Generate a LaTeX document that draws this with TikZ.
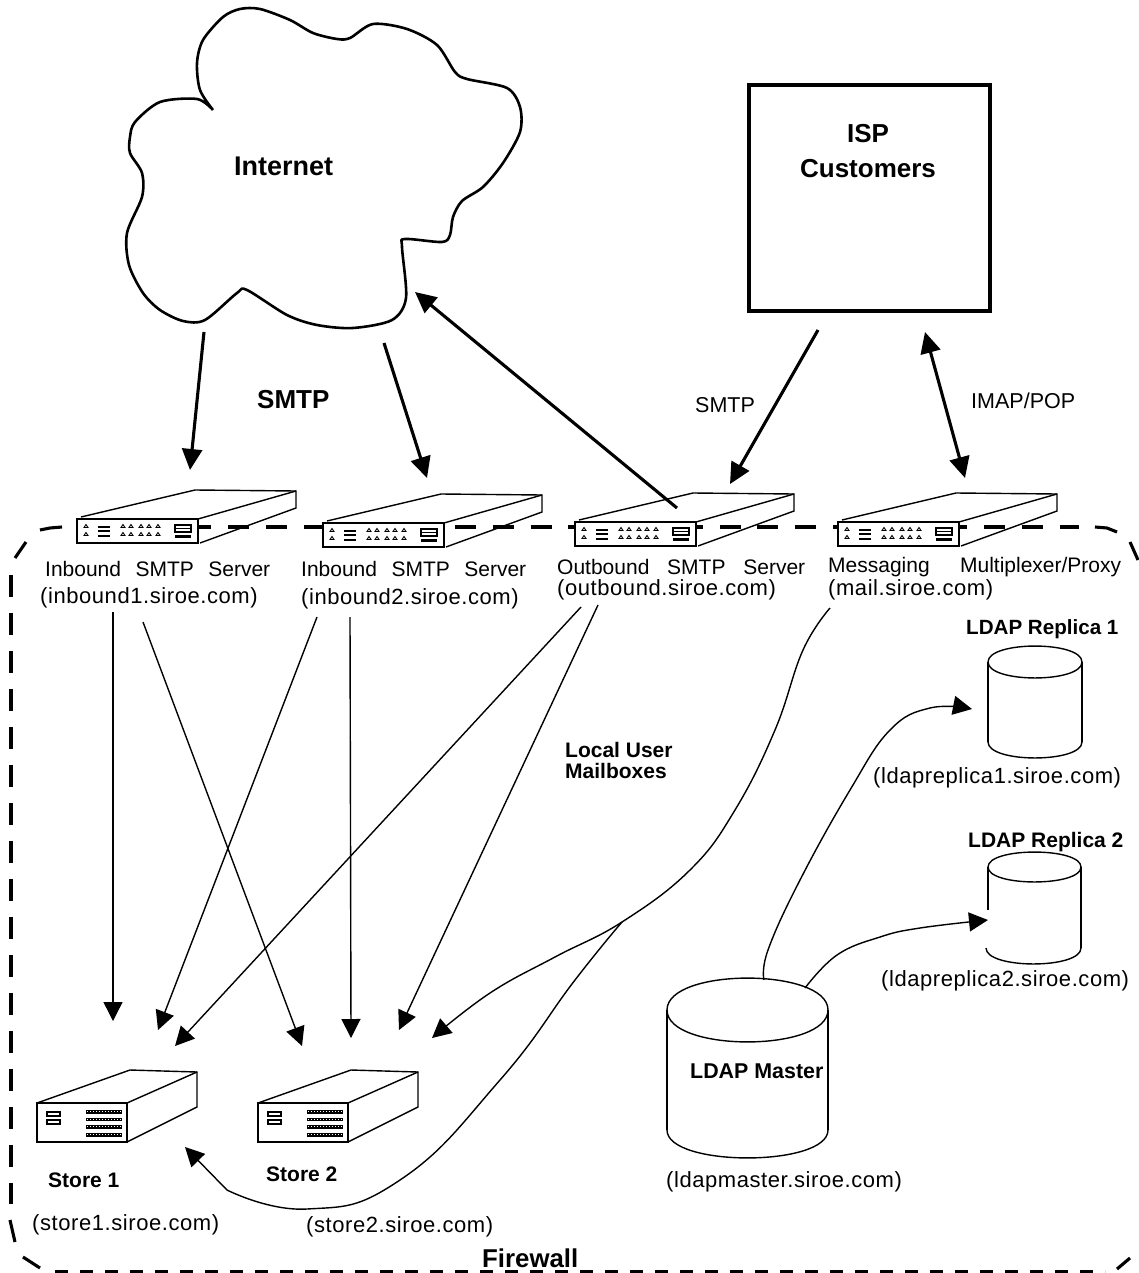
\documentclass[tikz,border=0pt]{standalone}
\usepackage{fontspec}
\setmainfont{Liberation Sans}
\newfontfamily\labfont[LetterSpace=2.6]{Liberation Sans}
\usetikzlibrary{arrows.meta}
\tikzset{
  x=1pt,y=-1pt,
  thinl/.style={draw=black,line width=1.4pt},
  heavy/.style={draw=black,line width=3.1pt},
  fwl/.style={draw=black,line width=3.1pt},
  thinarrow/.style={thinl,-{Triangle[length=19pt,width=19pt]}},
  heavyarrow/.style={heavy,-{Triangle[length=21pt,width=20pt]}},
  heavyboth/.style={heavy,{Triangle[length=21pt,width=20pt]}-{Triangle[length=21pt,width=20pt]}},
  lbl/.style={anchor=base west,inner sep=0pt,font=\labfont\fontsize{22}{24}\selectfont},
  wlbl/.style={anchor=base west,inner sep=0pt,font=\fontsize{21}{24}\selectfont},
  blbl/.style={anchor=base west,inner sep=0pt,font=\bfseries\fontsize{#1}{#1}\selectfont},
  plbl/.style={anchor=base west,inner sep=0pt,font=\fontsize{21.5}{24}\selectfont},
  pics/server/.style={code={
    \draw[thinl] (4,-2) -- (118,-29) -- (219,-28) -- (219,-11) -- (123,24);
    \draw[thinl] (121,0) -- (219,-28);
    \filldraw[thinl,fill=white] (0,0) rectangle (121,24);
    \foreach \px in {9,46,54,64,72,81}{
      \draw[line width=.9pt] (\px,5.5) -- ++(2,3) -- ++(-4,0) -- cycle;
      \draw[line width=.9pt] (\px,13.5) -- ++(2,3) -- ++(-4,0) -- cycle;}
    \fill (21,7) rectangle (33,9);
    \fill (21,11) rectangle (33,13);
    \fill (21,15.5) rectangle (33,17.5);
    \draw[line width=1.2pt] (98,6) rectangle (114,13);
    \draw[line width=1.2pt] (98,9.5) -- (114,9.5);
    \fill (98,16) rectangle (114,19);
  }},
  pics/store/.style={code={
    \draw[thinl] (0,-1) -- (93,-34) -- (126,-33) -- (160,-32) -- (160,3) -- (90,38);
    \draw[thinl] (90,-1) -- (160,-32);
    \filldraw[thinl,fill=white] (0,-1) rectangle (90,38);
    \draw[line width=1.1pt] (10,8) rectangle (23,12);
    \draw[line width=1.1pt] (10,16) rectangle (23,20);
    \foreach \py in {6,13.5,21,29}{
      \fill (49,\py) rectangle (85,\py+3.6);
      \draw[white,line width=1pt,dash pattern=on 1pt off 2pt] (50,\py+1.8) -- (84,\py+1.8);}
  }},
}
\newcommand{\capellipse}[4]{%
  \draw[thinl] (#1,#3) .. controls (#1,#3-1.33*#4) and (#2,#3-1.33*#4) .. (#2,#3)
     .. controls (#2,#3+1.33*#4) and (#1,#3+1.33*#4) .. (#1,#3) -- cycle;}
\newcommand{\capbottom}[4]{%
  \draw[thinl] (#1,#3) .. controls (#1,#3+1.33*#4) and (#2,#3+1.33*#4) .. (#2,#3);}
\begin{document}
\begin{tikzpicture}
\useasboundingbox (0,0) rectangle (1138,1273);
\fill[white] (0,0) rectangle (1138,1273);

% Firewall
\draw[fwl] (15,558) -- (26,542);
\draw[fwl] (40,530) -- (50,528) -- (62,527);
\draw[fwl,dash pattern=on 21pt off 16.8pt] (77,527) -- (1079,527);
\draw[fwl] (1095,527) -- (1107,528) -- (1117,532);
\draw[fwl] (1130,542) -- (1138,560);
\draw[fwl,dash pattern=on 22pt off 16pt] (11,575) -- (11,1204);
\draw[fwl] (10,1220) -- (15,1242);
\draw[fwl] (23,1257) -- (40,1268);
\draw[line width=2.6pt,dash pattern=on 13pt off 12pt] (55,1271.5) -- (1105,1271.5);
\draw[fwl] (1117,1269) -- (1130,1258);

% Cloud
\draw[heavy,line width=2.6pt,line join=round] plot[smooth,tension=0.5] coordinates {
 (213,110) (200,90) (197,63) (203,40) (223,17) (240,9) (260,9) (290,20) (313,33)
 (337,39) (350,38) (373,24) (407,29) (437,45) (455,72) (467,79) (507,88) (520,107)
 (520,132) (503,163) (483,187) (462,201) (453,217) (450,235) (442,242) (405,239)
 (402,247) (406,298) (392,320) (353,328) (317,325) (287,315) (247,290) (237,293)
 (205,320) (183,321) (160,310) (143,293) (129,265) (127,233) (142,197) (142,173)
 (130,153) (130,137) (135,122) (160,102) (197,99) (213,110)};
\node[blbl=27] (internet) at (234,176) {Internet};

% ISP box
\draw[heavy] (749,85) rectangle (990,311);
\node[blbl=26,anchor=base] (isp) at (868,143) {ISP};
\node[blbl=26,anchor=base] (customers) at (868,178) {Customers};

% Devices
\pic at (77,519) {server};
\pic at (323,523) {server};
\pic at (575,522) {server};
\pic at (838,522) {server};
\pic at (37,1104) {store};
\pic at (258,1104) {store};

% Named connector ends
\coordinate (cloudA) at (204,332);
\coordinate (inA) at (190,470);
\coordinate (cloudB) at (384,343);
\coordinate (inB) at (427,478);
\coordinate (outTop) at (677,508);
\coordinate (cloudC) at (415,292);
\coordinate (ispA) at (818,330);
\coordinate (outB) at (730,484);
\coordinate (ispB) at (925,332);
\coordinate (mmp) at (965,478);
\coordinate (a1) at (113,612);
\coordinate (a1e) at (113,1021);
\coordinate (a2) at (143,622);
\coordinate (a2e) at (302,1046);
\coordinate (b1) at (317,617);
\coordinate (b1e) at (158,1030);
\coordinate (b2) at (350,617);
\coordinate (b2e) at (351,1038);
\coordinate (c1) at (581,607);
\coordinate (c1e) at (175,1046);
\coordinate (c2) at (598,605);
\coordinate (c2e) at (399,1030);
\coordinate (m) at (830,608);
\coordinate (me) at (432,1038);
\coordinate (branch) at (622,922);
\coordinate (branchm) at (227,1190);
\coordinate (branche) at (185,1147);
\coordinate (ma) at (764,980);
\coordinate (mae) at (972,709);
\coordinate (mb) at (805,988);
\coordinate (mbe) at (988,920);

% Heavy arrows
\draw[heavyarrow] (cloudA) -- (inA);
\draw[heavyarrow] (cloudB) -- (inB);
\draw[heavyarrow] (outTop) -- (cloudC);
\draw[heavyarrow] (ispA) -- (outB);
\draw[heavyboth] (ispB) -- (mmp);

% Thin arrows
\draw[thinarrow] (a1) -- (a1e);
\draw[thinarrow] (a2) -- (a2e);
\draw[thinarrow] (b1) -- (b1e);
\draw[thinarrow] (b2) -- (b2e);
\draw[thinarrow] (c1) -- (c1e);
\draw[thinarrow] (c2) -- (c2e);
\draw[thinarrow] plot[smooth,tension=0.7] coordinates {(m) (803,650) (775,730) (735,810) (690,870) (622,922) (555,957) (490,993) (me)};
\draw[thinl] plot[smooth,tension=0.8] coordinates {(branch) (575,980) (500,1080) (400,1180) (307,1209) (branchm)};
\draw[thinarrow] (branchm) -- (branche);
\draw[thinarrow] plot[smooth,tension=0.7] coordinates {(ma) (768,950) (800,880) (850,790) (890,730) (930,708) (mae)};
\draw[thinarrow] plot[smooth,tension=0.7] coordinates {(mb) (837,955) (880,937) (920,928) (mbe)};

% LDAP cylinders
\capellipse{988}{1082}{662}{16}
\draw[thinl] (988,662) -- (988,742);
\draw[thinl] (1082,662) -- (1082,742);
\capbottom{988}{1082}{742}{16}
\capellipse{988}{1081}{867}{15}
\draw[thinl] (988,867) -- (988,910);
\draw[thinl] (1081,867) -- (1081,948);
\capbottom{986}{1081}{948}{16}
\capellipse{667}{828}{1010}{32}
\draw[thinl] (667,1010) -- (667,1130);
\draw[thinl] (828,1010) -- (828,1130);
\capbottom{667}{828}{1130}{28}

% Labels
\node[wlbl] (in1a) at (45,576) {\makebox[225pt][s]{Inbound\hfil SMTP\hfil Server}};
\node[lbl] (in1b) at (40,603) {(inbound1.siroe.com)};
\node[wlbl] (in2a) at (301,576) {\makebox[225pt][s]{Inbound\hfil SMTP\hfil Server}};
\node[lbl] (in2b) at (301,604) {(inbound2.siroe.com)};
\node[wlbl] (outa) at (557,574) {\makebox[248pt][s]{Outbound\hfil SMTP\hfil Server}};
\node[lbl] (outb) at (557,595) {(outbound.siroe.com)};
\node[wlbl] (mxa) at (828,572) {\makebox[293pt][s]{Messaging\hfil Multiplexer/Proxy}};
\node[lbl] (mxb) at (828,595) {(mail.siroe.com)};
\node[lbl] (r1) at (873,783) {(ldapreplica1.siroe.com)};
\node[lbl] (r2) at (881,986) {(ldapreplica2.siroe.com)};
\node[lbl] (mst) at (666,1187) {(ldapmaster.siroe.com)};
\node[lbl] (st1) at (32,1230) {(store1.siroe.com)};
\node[lbl] (st2) at (306,1232) {(store2.siroe.com)};

\node[blbl=26] (smtpA) at (257,408) {SMTP};
\node[plbl] (smtpB) at (695,412) {SMTP};
\node[plbl] (imap) at (971,408) {IMAP/POP};
\node[blbl=21] (local) at (565,757) {Local User};
\node[blbl=21] (mailb) at (565,778) {Mailboxes};
\node[blbl=20.6] (rep1) at (966,634) {LDAP Replica 1};
\node[blbl=21] (rep2) at (968,847) {LDAP Replica 2};
\node[blbl=21.4] (master) at (690,1078) {LDAP Master};
\node[blbl=21] (store1) at (48,1187) {Store 1};
\node[blbl=21] (store2) at (266,1181) {Store 2};
\node[blbl=25.8] (firewall) at (482,1267) {Firewall};
\end{tikzpicture}
\end{document}
